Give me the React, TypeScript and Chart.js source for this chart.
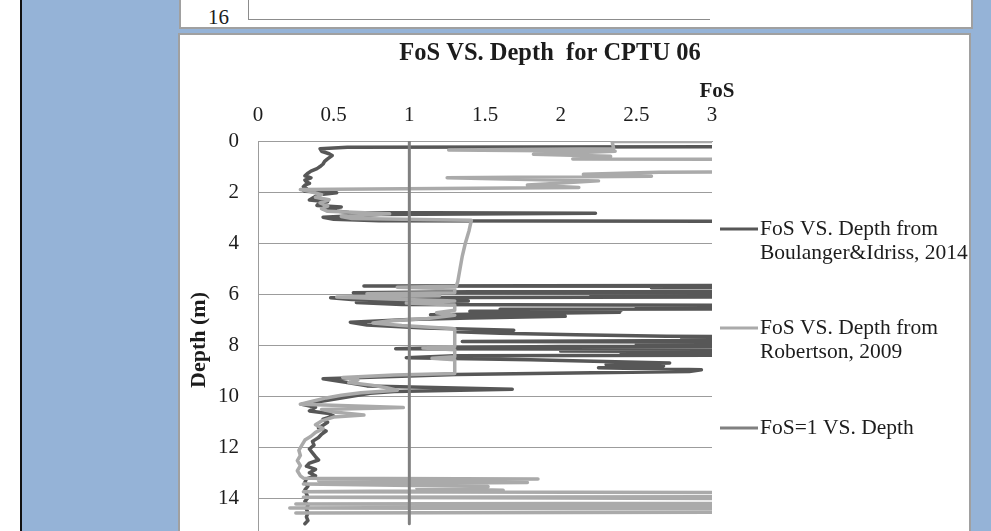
import React, { useEffect, useRef } from "react";
import { Chart, registerables } from "chart.js";

Chart.register(...registerables);

const FONT = '"Liberation Serif", "Times New Roman", serif';

const chartTitle = "FoS VS. Depth  for CPTU 06";
const xAxisTitle = "FoS";
const yAxisTitle = "Depth (m)";
const xTicks = [0, 0.5, 1, 1.5, 2, 2.5, 3];
const depthTicks = [0, 2, 4, 6, 8, 10, 12, 14, 16];
const prevChartTick = "16";

const legendLabels = [
  ["FoS VS. Depth from", "Boulanger&Idriss, 2014"],
  ["FoS VS. Depth from", "Robertson, 2009"],
  ["FoS=1 VS. Depth"],
];

// Boulanger & Idriss (2014): depth (m) and FoS (values above 3 run off the axis)
const boulangerDepth = [
  0.0, 0.2, 0.24, 0.3, 0.4, 0.5, 0.57, 0.7, 0.8, 0.9, 1.0, 1.08, 1.18, 1.26, 1.36, 1.44, 1.53, 1.6, 1.66, 1.73,
  1.79, 1.86, 1.92, 1.97, 2.02, 2.1, 2.2, 2.31, 2.38, 2.45, 2.52, 2.58, 2.66, 2.74, 2.8, 2.83, 2.88, 2.98, 3.06,
  3.12, 3.16, 4.5, 5.62, 5.67, 5.7, 5.74, 5.78, 5.82, 5.86, 5.9, 5.94, 5.98, 6.02, 6.06, 6.13, 6.2, 6.26, 6.32,
  6.4, 6.46, 6.5, 6.54, 6.58, 6.62, 6.66, 6.7, 6.8, 6.86, 6.92, 6.98, 7.09, 7.2, 7.32, 7.4, 7.46, 7.52, 7.58,
  7.64, 7.68, 7.72, 7.76, 7.8, 7.84, 7.9, 7.95, 7.99, 8.04, 8.08, 8.13, 8.18, 8.22, 8.26, 8.3, 8.34, 8.4, 8.48,
  8.56, 8.62, 8.68, 8.74, 8.8, 8.87, 8.95, 9.02, 9.13, 9.3, 9.45, 9.58, 9.71, 9.8, 9.87, 10.0, 10.15, 10.3, 10.42,
  10.56, 10.66, 10.76, 10.88, 11.0, 11.12, 11.22, 11.35, 11.47, 11.6, 11.75, 11.9, 12.05, 12.2, 12.35, 12.48,
  12.6, 12.72, 12.85, 12.98, 13.1, 13.22, 13.35, 13.5, 13.65, 13.8, 13.95, 14.1, 14.25, 14.4, 14.55, 14.7, 14.85,
  14.97,
];
const boulangerFoS = [
  6, 6, 0.59, 0.41, 0.42, 0.47, 0.49, 0.46, 0.44, 0.43, 0.41, 0.39, 0.35, 0.33, 0.31, 0.35, 0.31, 0.32, 0.34, 0.31,
  0.3, 0.32, 0.3, 0.31, 0.52, 0.4, 0.37, 0.34, 0.46, 0.4, 0.39, 0.55, 0.43, 0.52, 0.6, 2.23, 0.8, 0.43, 0.5,
  0.8, 6, 6, 6, 0.7, 6, 2.6, 6, 3.5, 6, 1.4, 0.63, 6, 2.2, 6, 0.48, 0.62, 1.39, 0.65,
  0.95, 6, 2.5, 6, 1.6, 2.4, 1.4, 2.39, 1.14, 2.03, 1.4, 1.0, 0.61, 0.72, 1.1, 1.69, 1.31, 1.6, 2.1,
  2.7, 6, 2.8, 6, 3.2, 1.35, 6, 2.5, 6, 2.0, 1.3, 0.91, 6, 2.0, 6, 2.4, 6, 1.3, 0.98,
  1.8, 2.22, 2.72, 2.3, 2.68, 2.25, 2.93, 2.85, 1.31, 0.43, 0.59, 0.72, 1.68, 0.9, 0.74, 0.61, 0.45, 0.29, 0.38,
  0.34, 0.47, 0.5, 0.43, 0.46, 0.43, 0.4, 0.45, 0.42, 0.4, 0.36, 0.37, 0.34, 0.36, 0.38, 0.4,
  0.34, 0.32, 0.38, 0.34, 0.38, 0.32, 0.31, 0.33, 0.31, 0.32, 0.33, 0.31, 0.33, 0.32, 0.33, 0.32, 0.33,
  0.31,
];

// Robertson (2009)
const robertsonDepth = [
  0.0, 0.02, 0.3, 0.35, 0.4, 0.52, 0.6, 0.7, 0.76, 1.15, 1.22, 1.3, 1.38, 1.44, 1.56, 1.72, 1.82, 1.9, 1.97, 2.1,
  2.2, 2.3, 2.42, 2.55, 2.65, 2.75, 2.85, 2.95, 3.03, 3.1, 3.5, 4.0, 4.5, 5.0, 5.5, 5.68, 5.72, 5.78, 5.94, 5.98,
  6.05, 6.1, 6.18, 6.26, 6.34, 6.42, 6.62, 6.72, 6.82, 6.94, 7.04, 7.12, 7.22, 7.34, 8.04, 8.1, 8.17, 8.44, 8.5,
  8.56, 9.1, 9.15, 9.25, 9.35, 9.45, 9.55, 9.65, 9.75, 9.85, 9.95, 10.05, 10.18, 10.3, 10.43, 10.5, 10.6, 10.72,
  10.8, 10.95, 11.1, 11.25, 11.4, 11.55, 11.7, 11.9, 12.1, 12.3, 12.5, 12.7, 12.9, 13.1, 13.19, 13.22, 13.28,
  13.36, 13.42, 13.52, 13.58, 13.66, 13.72, 13.78, 13.9, 13.94, 14.04, 14.14, 14.2, 14.26, 14.36, 14.42, 14.5,
  14.55,
];
const robertsonFoS = [
  6, 2.34, 2.35, 1.26, 2.36, 1.82, 2.33, 2.08, 6, 6, 2.65, 2.15, 2.6, 1.25, 2.25, 1.78, 2.12, 0.28, 0.34, 0.42,
  0.38, 0.47, 0.41, 0.46, 0.42, 0.46, 0.87, 0.55, 0.62, 1.41, 1.395, 1.37, 1.35, 1.335, 1.32, 1.31, 0.92, 1.3, 1.3, 0.72,
  1.2, 0.52, 0.87, 1.3, 0.98, 1.3, 1.3, 1.18, 1.3, 1.12, 0.86, 0.76, 0.95, 1.3, 1.3, 1.09, 1.3, 1.3, 1.15,
  1.3, 1.3, 0.9, 0.56, 0.66, 0.6, 0.75, 0.85, 0.92, 0.68, 0.55, 0.45, 0.36, 0.28, 0.96, 0.42, 0.5, 0.7,
  0.5, 0.42, 0.38, 0.43, 0.38, 0.35, 0.31, 0.29, 0.27, 0.28, 0.26, 0.28, 0.26, 0.28, 0.3, 1.85, 0.4,
  1.78, 0.3, 1.52, 1.05, 1.62, 0.3, 6, 6, 0.3, 6, 6, 0.25, 6, 0.21, 6, 6,
  0.25,
];

// FoS = 1 reference line
const fos1Depth = [0, 14.97];
const fos1FoS = [1, 1];

const DARK = "#575757";
const LIGHT = "#aaaaaa";
const MID = "#808080";
const GRID = "#9c9c9c";
const TEXT = "#1c1c1c";
const BLUE = "#95b3d7";

const toPoints = (depth: number[], fos: number[]) => depth.map((d, i) => ({ x: fos[i], y: d }));

const decorPlugin = {
  id: "decor",
  afterDraw(chart: any) {
    const ctx = chart.ctx as CanvasRenderingContext2D;
    ctx.save();
    ctx.fillStyle = TEXT;
    ctx.textAlign = "center";
    ctx.textBaseline = "alphabetic";
    ctx.font = `bold 24.5px ${FONT}`;
    ctx.fillText(chartTitle, 550, 60);
    ctx.font = `bold 21px ${FONT}`;
    ctx.fillText(xAxisTitle, 717, 97);

    ctx.save();
    ctx.translate(199, 340);
    ctx.rotate(-Math.PI / 2);
    ctx.font = `bold 22px ${FONT}`;
    ctx.textBaseline = "middle";
    ctx.fillText(yAxisTitle, 0, 0);
    ctx.restore();

    const entryY = [229, 328, 428];
    const colors = [DARK, LIGHT, MID];
    ctx.font = `21.5px ${FONT}`;
    ctx.textAlign = "left";
    ctx.textBaseline = "middle";
    legendLabels.forEach((lines, i) => {
      const y = entryY[i];
      ctx.strokeStyle = colors[i];
      ctx.lineWidth = 3;
      ctx.beginPath();
      ctx.moveTo(720, y);
      ctx.lineTo(758, y);
      ctx.stroke();
      lines.forEach((t, j) => ctx.fillText(t, 760, y + j * 24));
    });
    ctx.restore();
  },
};

export default function App() {
  const ref = useRef<HTMLCanvasElement>(null);

  useEffect(() => {
    if (!ref.current) return;
    const common = {
      showLine: true,
      pointRadius: 0,
      pointHoverRadius: 0,
      borderWidth: 3.5,
      borderJoinStyle: "round" as const,
      borderCapStyle: "round" as const,
      tension: 0,
    };
    const chart = new Chart(ref.current, {
      type: "scatter",
      data: {
        datasets: [
          { ...common, label: legendLabels[0].join(" "), data: toPoints(boulangerDepth, boulangerFoS), borderColor: DARK, backgroundColor: DARK, order: 3 },
          { ...common, label: legendLabels[1].join(" "), data: toPoints(robertsonDepth, robertsonFoS), borderColor: LIGHT, backgroundColor: LIGHT, order: 2 },
          { ...common, borderWidth: 3, label: legendLabels[2][0], data: toPoints(fos1Depth, fos1FoS), borderColor: MID, backgroundColor: MID, order: 1 },
        ],
      },
      options: {
        animation: false,
        responsive: false,
        devicePixelRatio: 1,
        events: [],
        layout: { padding: { left: 198, right: 279, top: 101, bottom: 20 } },
        plugins: {
          legend: { display: false },
          title: { display: false },
          tooltip: { enabled: false },
        },
        scales: {
          x: {
            type: "linear",
            position: "top",
            min: 0,
            max: 3,
            afterBuildTicks: (s: any) => {
              s.ticks = xTicks.map((v) => ({ value: v }));
            },
            afterFit: (s: any) => {
              s.height = 40;
              s.paddingLeft = 0;
              s.paddingRight = 0;
            },
            ticks: {
              font: { family: FONT, size: 21 },
              color: TEXT,
              padding: 13,
              maxRotation: 0,
              autoSkip: false,
              callback: (v: any) => String(v),
            },
            grid: { display: false, drawTicks: false },
            border: { display: true, color: GRID, width: 1 },
          },
          y: {
            type: "linear",
            reverse: true,
            min: 0,
            max: 16,
            afterBuildTicks: (s: any) => {
              s.ticks = depthTicks.map((v) => ({ value: v }));
            },
            afterFit: (s: any) => {
              s.width = 60;
              s.paddingTop = 0;
              s.paddingBottom = 0;
            },
            ticks: { font: { family: FONT, size: 21 }, color: TEXT, padding: 19, autoSkip: false, callback: (v: any) => String(v) },
            grid: { color: GRID, lineWidth: 1, drawTicks: false },
            border: { display: true, color: GRID, width: 1 },
          },
        },
      },
      plugins: [decorPlugin],
    });
    return () => chart.destroy();
  }, []);

  return (
    <div style={{ position: "fixed", left: 0, top: 0, width: 991, height: 531, overflow: "hidden", background: BLUE }}>
      <div style={{ position: "absolute", left: 0, top: 0, width: 20, height: 531, background: "#ffffff" }} />
      <div style={{ position: "absolute", left: 20, top: 0, width: 2, height: 531, background: "#111111" }} />
      {/* bottom of the previous chart panel */}
      <div
        style={{
          position: "absolute",
          left: 179,
          top: -10,
          width: 794,
          height: 39,
          boxSizing: "border-box",
          background: "#ffffff",
          border: "2px solid #a0a0a0",
        }}
      >
        <div style={{ position: "absolute", left: 67, top: 0, width: 1, height: 28, background: "#8c8c8c" }} />
        <div style={{ position: "absolute", left: 67, top: 27, width: 462, height: 1, background: "#8c8c8c" }} />
        <span
          style={{
            position: "absolute",
            left: 27,
            top: 12,
            font: `21px ${FONT}`,
            color: TEXT,
            lineHeight: "26px",
          }}
        >
          {prevChartTick}
        </span>
      </div>
      {/* current chart panel */}
      <div
        style={{
          position: "absolute",
          left: 178,
          top: 33,
          width: 793,
          height: 540,
          boxSizing: "border-box",
          background: "#ffffff",
          border: "2px solid #a0a0a0",
        }}
      />
      <canvas
        ref={ref}
        width={991}
        height={570}
        style={{ position: "absolute", left: 0, top: 0, width: 991, height: 570, display: "block" }}
      />
    </div>
  );
}
